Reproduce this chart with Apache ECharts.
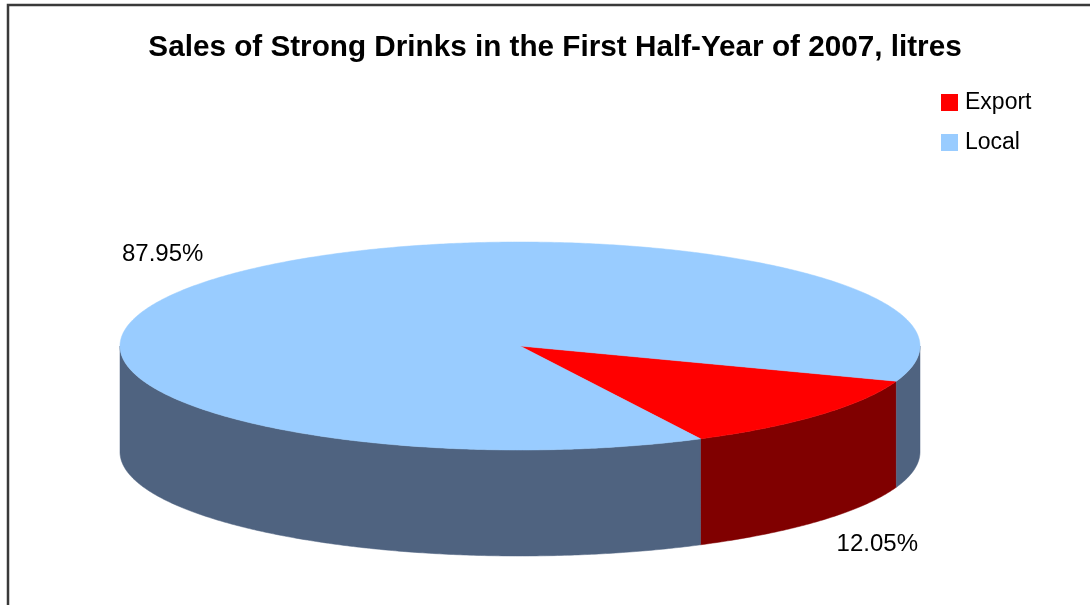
<!DOCTYPE html>
<html>
<head>
<meta charset="utf-8">
<title>Sales of Strong Drinks</title>
<script src="https://cdn.jsdelivr.net/npm/echarts@6/dist/echarts.min.js"></script>
<style>
  html, body { margin: 0; padding: 0; background: #ffffff; }
  #chart { width: 1090px; height: 605px; }
</style>
</head>
<body>
<div id="chart"></div>
<script>
// Sales split, in percent of litres sold
const categories = ['Export', 'Local'];
const shares = [12.05, 87.95];

// Palette: top faces and darker side walls
const topColors = ['#FF0000', '#99CCFF'];
const sideColors = ['#800000', '#4F6380'];

// Projected pie geometry (ellipse top face + wall depth)
const PIE = { cx: 520, cy: 346, rx: 400, ry: 104, depth: 106, startDeg: 19.8 };
const LABEL_PAD = { x: 77, y: 35 };

const total = shares.reduce((a, b) => a + b, 0);
const spans = [];
(function () {
  let acc = 0;
  shares.forEach(function (v) {
    const a0 = PIE.startDeg + 360 * acc / total;
    const a1 = a0 + 360 * v / total;
    spans.push([a0, a1]);
    acc += v;
  });
})();

function pt(deg, dy) {
  const t = deg * Math.PI / 180;
  return [PIE.cx + PIE.rx * Math.cos(t), PIE.cy + PIE.ry * Math.sin(t) + (dy || 0)];
}

function arc(a, b, dy) {
  const pts = [];
  const n = Math.max(2, Math.ceil(Math.abs(b - a) * 2));
  for (let i = 0; i <= n; i++) pts.push(pt(a + (b - a) * i / n, dy));
  return pts;
}

function renderSlice(idx) {
  return function (params, api) {
    const span = spans[idx];
    const a0 = span[0], a1 = span[1];
    const children = [];

    // Outer wall: only the front half (0..180 deg, repeated per turn) is visible
    [[0, 180], [360, 540]].forEach(function (win) {
      const s = Math.max(a0, win[0]);
      const e = Math.min(a1, win[1]);
      if (e > s) {
        const pts = arc(s, e, 0).concat(arc(e, s, PIE.depth));
        children.push({
          type: 'polygon',
          shape: { points: pts },
          style: { fill: sideColors[idx], stroke: sideColors[idx], lineWidth: 0.5 }
        });
      }
    });

    // Top face sector
    const top = [[PIE.cx, PIE.cy]].concat(arc(a0, a1, 0));
    children.push({
      type: 'polygon',
      shape: { points: top },
      style: { fill: topColors[idx], stroke: topColors[idx], lineWidth: 0.5 }
    });

    // Percentage label, placed outside the slice mid-angle
    const mid = (a0 + a1) / 2 * Math.PI / 180;
    const s = Math.sin(mid);
    const lx = PIE.cx + (PIE.rx + LABEL_PAD.x) * Math.cos(mid);
    const ly = PIE.cy + (PIE.ry + LABEL_PAD.y) * s + (s > 0 ? PIE.depth : 0);
    children.push({
      type: 'text',
      x: lx,
      y: ly,
      style: {
        text: api.value(0).toFixed(2) + '%',
        align: 'center',
        verticalAlign: 'middle',
        fill: '#000000',
        fontSize: 24,
        fontFamily: '"Liberation Sans", Arial, sans-serif'
      }
    });

    return { type: 'group', children: children };
  };
}

const chart = echarts.init(document.getElementById('chart'), null, { renderer: 'canvas' });

chart.setOption({
  animation: false,
  backgroundColor: '#ffffff',
  title: {
    text: 'Sales of Strong Drinks in the First Half-Year of 2007, litres',
    left: 555,
    top: 33,
    padding: 0,
    textAlign: 'center',
    textStyle: {
      fontSize: 29.7,
      lineHeight: 30,
      fontWeight: 'bold',
      color: '#000000',
      fontFamily: '"Liberation Sans", Arial, sans-serif'
    }
  },
  legend: {
    orient: 'vertical',
    left: 941,
    top: 91,
    padding: 0,
    icon: 'rect',
    itemWidth: 17,
    itemHeight: 17,
    itemGap: 17,
    selectedMode: false,
    data: categories,
    textStyle: {
      fontSize: 23,
      lineHeight: 17,
      color: '#000000',
      padding: [0, 0, 0, 2],
      fontFamily: '"Liberation Sans", Arial, sans-serif'
    }
  },
  graphic: [{
    type: 'rect',
    silent: true,
    shape: { x: 8, y: 5, width: 1300, height: 1000 },
    style: { fill: null, stroke: '#3a3a3a', lineWidth: 2.5 }
  }],
  series: categories.map(function (name, i) {
    return {
      type: 'custom',
      name: name,
      coordinateSystem: 'none',
      itemStyle: { color: topColors[i] },
      data: [shares[i]],
      renderItem: renderSlice(i)
    };
  })
});
</script>
</body>
</html>
